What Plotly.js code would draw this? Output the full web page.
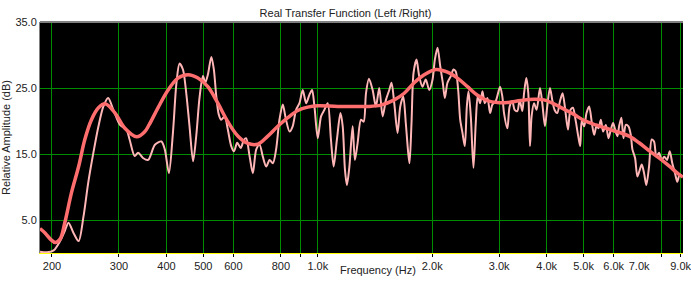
<!DOCTYPE html>
<html><head><meta charset="utf-8">
<script src="https://cdn.plot.ly/plotly-3.0.1.min.js"></script>
<style>html,body{margin:0;padding:0;background:#fff}#chart{width:691px;height:282px}</style>
</head><body><div id="chart"></div>
<script>
// Thin (raw) response: frequency in Hz, relative amplitude in dB
const rawFreq = [186,194,202,210,216,221,228,235,242,249,257,265,273,281,290,302,314,320,330,337,347,358,373,388,396,406,416,425,433,442,451,460,470,479,489,499,506,514,525,533,541,549,557,569,580,592,602,614,627,639,648,662,675,689,703,717,732,747,762,777,793,809,825,843,859,877,895,913,932,951,966,980,1000,1020,1041,1062,1083,1101,1123,1147,1163,1179,1193,1211,1235,1252,1273,1299,1320,1339,1363,1394,1422,1451,1481,1511,1542,1563,1589,1621,1648,1678,1704,1729,1743,1764,1786,1818,1848,1885,1923,1964,2004,2032,2065,2099,2132,2158,2193,2238,2274,2306,2340,2369,2402,2436,2466,2491,2526,2567,2603,2635,2673,2711,2749,2794,2839,2879,2937,3016,3058,3089,3152,3196,3248,3294,3348,3395,3451,3487,3535,3578,3615,3650,3704,3763,3840,3894,3958,4013,4079,4136,4194,4263,4335,4403,4475,4549,4620,4688,4762,4841,4900,4944,5019,5090,5173,5258,5332,5407,5473,5552,5630,5722,5814,5898,5980,6052,6138,6201,6288,6365,6458,6561,6656,6721,6830,6926,7027,7113,7212,7313,7433,7556,7661,7769,7896,8026,8153,8287,8424,8557,8698,8820,8948,9073];
const rawDb = [0.2,0.1,0.4,1.8,3.3,4.6,3.0,1.8,5.5,10.6,15.2,19.2,22.2,23.5,21.7,19.4,18.7,17.2,14.7,15.2,14.4,14.1,16.4,16.9,15.7,12.1,18.2,25.8,28.7,27.8,24.2,19.2,13.9,17.7,23.7,26.8,25.8,27.0,29.7,27.8,23.7,21.0,20.2,20.7,18.7,16.2,15.4,16.7,15.9,17.1,17.4,14.6,12.1,15.7,16.4,14.6,13.1,14.1,13.6,15.7,20.2,22.5,20.2,18.4,19.2,21.7,22.7,24.7,22.7,24.0,24.7,22.2,17.4,20.7,21.7,22.7,17.2,13.1,17.2,21.2,19.2,12.6,10.3,13.1,19.2,14.1,16.7,20.2,19.9,24.2,26.4,24.7,22.2,25.0,20.7,23.2,24.7,25.8,22.7,18.2,22.2,23.7,19.7,15.2,13.6,19.7,27.3,29.3,26.8,25.2,26.3,24.7,26.3,29.3,31.1,28.3,25.8,23.5,25.8,26.8,27.8,27.5,24.7,20.2,18.2,16.2,22.2,24.5,20.7,12.9,19.7,23.8,22.7,24.5,22.7,23.5,21.2,22.5,23.0,25.2,23.7,21.2,18.9,22.2,23.0,21.7,21.5,23.2,21.5,24.2,26.5,24.2,16.2,20.7,22.7,21.7,25.0,22.7,19.2,22.2,25.0,23.2,21.7,21.2,23.0,24.2,21.7,18.7,21.7,22.0,20.2,17.7,16.2,20.0,19.2,21.2,22.2,19.7,17.9,19.2,18.9,20.2,18.4,19.4,17.4,18.7,19.7,18.7,17.7,19.2,20.5,17.4,19.4,19.2,17.9,15.7,14.4,11.6,12.6,13.4,12.1,10.3,13.1,17.2,16.9,14.6,15.2,14.1,14.6,14.1,15.4,13.6,12.1,10.8,11.9,11.6];
// Smoothed response
const smoothFreq = [186,192,198,204,210,216,225,235,244,254,265,276,293,311,334,351,360,380,404,429,456,484,514,546,580,617,655,696,739,785,834,886,941,1000,1128,1273,1352,1465,1589,1688,1793,1905,2044,2193,2330,2476,2630,2794,2967,3152,3416,3704,3934,4179,4440,4716,5010,5387,5955,6587,6997,7433,7896,8388,8910,9128];
const smoothDb = [3.7,3.0,2.1,1.6,2.1,4.5,9.1,13.1,17.2,20.2,22.0,22.6,21.2,18.9,17.6,18.4,19.4,22.0,24.7,26.5,27.0,26.5,25.2,22.7,19.9,17.7,16.6,16.5,17.7,19.2,20.5,21.6,22.1,22.3,22.2,22.2,22.2,22.4,23.2,24.2,25.8,27.0,27.8,27.4,26.5,25.2,23.9,23.1,22.8,22.8,23.1,23.3,23.2,22.6,21.8,21.0,20.1,19.4,18.6,17.7,16.7,15.5,14.4,13.2,11.9,11.5];
// Axis ticks
const xGridVals = [200,300,400,500,600,800,900,1000,2000,3000,4000,5000,6000,8000,9000];
const xGridText = ['200','300','400','500','600','800','','1.0k','2.0k','3.0k','4.0k','5.0k','6.0k','','9.0k'];
const xExtraVals = [7000];
const xExtraText = ['7.0k'];
const yTickVals = [5,15,25,35];
const yTickText = ['5.0','15.0','25.0','35.0'];

const FONT = 'Liberation Sans, Arial, sans-serif';
const traces = [
  {x: rawFreq, y: rawDb, type: 'scatter', mode: 'lines',
   line: {color: '#ffb6b6', width: 2, shape: 'spline', smoothing: 0.8}, hoverinfo: 'skip'},
  {x: smoothFreq, y: smoothDb, type: 'scatter', mode: 'lines',
   line: {color: '#ff6e6e', width: 3.5, shape: 'spline', smoothing: 1}, hoverinfo: 'skip'},
  {x: [], y: [], xaxis: 'x2', type: 'scatter', mode: 'lines', hoverinfo: 'skip'}
];
const xr = [Math.log10(186), Math.log10(9130)];
const layout = {
  width: 691, height: 282,
  margin: {l: 40, r: 8, t: 22, b: 29, pad: 0},
  paper_bgcolor: '#ffffff', plot_bgcolor: '#000000',
  showlegend: false, hovermode: false,
  font: {family: FONT, size: 11, color: '#222'},
  title: {text: 'Real Transfer Function (Left /Right)', font: {family: FONT, size: 11, color: '#222'},
          x: 0.5, xanchor: 'center', y: 0.955, yanchor: 'middle'},
  xaxis: {type: 'log', range: xr, tickvals: xGridVals, ticktext: xGridText,
          showgrid: true, gridcolor: '#008c00', gridwidth: 1, zeroline: false,
          showline: true, linecolor: '#ffff00', linewidth: 1, ticklabeloverflow: 'allow',
          ticks: 'outside', ticklen: 3, tickcolor: '#000', tickfont: {family: FONT, size: 11, color: '#222'}},
  xaxis2: {type: 'log', range: xr, overlaying: 'x', anchor: 'y', side: 'bottom',
          tickvals: xExtraVals, ticktext: xExtraText, showgrid: false, zeroline: false,
          showline: false, ticks: 'outside', ticklen: 3, tickcolor: 'rgba(0,0,0,0)',
          tickfont: {family: FONT, size: 11, color: '#222'}},
  yaxis: {range: [0, 35], tickvals: yTickVals, ticktext: yTickText,
          showgrid: true, gridcolor: '#008c00', gridwidth: 1, zeroline: false,
          showline: true, linecolor: '#808080', linewidth: 1, ticks: '',
          tickfont: {family: FONT, size: 11, color: '#222'},
          title: {text: 'Relative Amplitude (dB)', font: {family: FONT, size: 11, color: '#222'}, standoff: 5}},
  shapes: [{type: 'line', xref: 'paper', yref: 'paper', x0: 0, x1: 1, y0: 1, y1: 1,
            line: {color: '#808080', width: 2}}],
  annotations: [{text: 'Frequency (Hz)', xref: 'paper', yref: 'paper', x: 0.526, y: -0.075,
                 xanchor: 'center', yanchor: 'middle', showarrow: false,
                 font: {family: FONT, size: 11, color: '#222'}}]
};
Plotly.newPlot('chart', traces, layout, {staticPlot: true, displayModeBar: false});
</script></body></html>
